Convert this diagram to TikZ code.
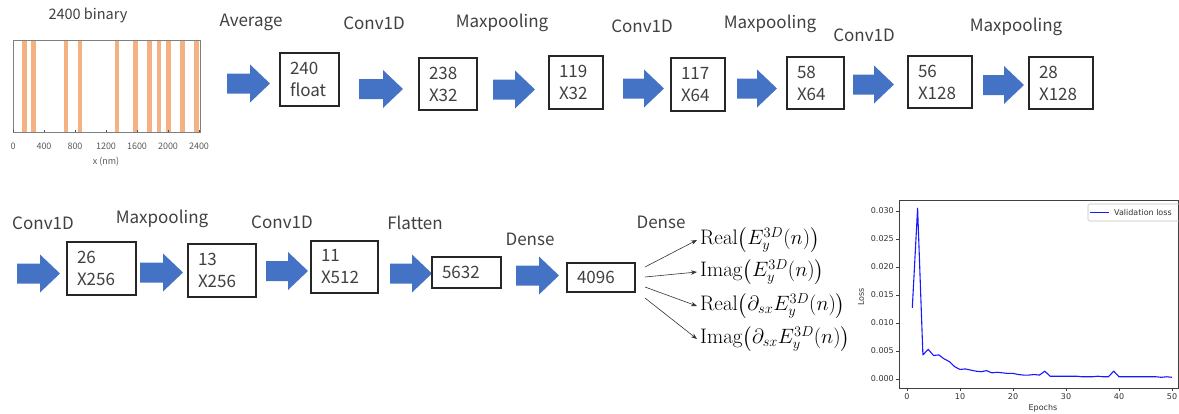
\documentclass[tikz,border=0pt]{standalone}
\usepackage{amsmath}
\usepackage{fontspec}
\newfontfamily\jpfont{Noto Sans CJK JP}
\newfontfamily\dvfont{DejaVu Sans}
\usetikzlibrary{arrows.meta}
\definecolor{arrowblue}{HTML}{4472C4}
\definecolor{barorange}{HTML}{F4B183}
\definecolor{labelgray}{HTML}{404040}
\definecolor{axisgray}{HTML}{7F7F7F}
\newcommand\blockarrow[3]{% left x, centre y, length
  \fill[arrowblue] (#1,#2-10) -- (#1+#3-20,#2-10) -- (#1+#3-20,#2-19) -- (#1+#3,#2)
    -- (#1+#3-20,#2+19) -- (#1+#3-20,#2+10) -- (#1,#2+10) -- cycle;}
\begin{document}
\begin{tikzpicture}[x=1pt,y=-1pt,
  lbl/.style={font=\jpfont\fontsize{17}{20}\selectfont, text=labelgray, inner sep=0pt},
  box/.style={draw=black!85, line width=1.3pt, inner xsep=10pt, inner ysep=0pt, align=left,
    font=\jpfont\fontsize{17}{22}\selectfont, text=labelgray},
  outl/.style={anchor=west, inner sep=3pt, font=\fontsize{21}{24}\selectfont},
  outarrow/.style={-{Stealth[length=6pt,width=4.5pt]}, line width=0.6pt, draw=black!80},
  ticklbl/.style={font=\dvfont\fontsize{8}{9}\selectfont, text=black!80, inner sep=0pt},
  smalllbl/.style={font=\jpfont\fontsize{9}{10}\selectfont, text=black!65, inner sep=0pt}]
\useasboundingbox (0,0) rectangle (1179,413);

% ---------- binary profile ----------
\node[lbl, font=\jpfont\fontsize{14.5}{17}\selectfont] (title) at (88,15) {2400 binary};
\foreach \a/\b in {22/27,31/36,64/68,78/82,115/119,133/138,147/152,157/161,166/171,180/185,194/199}
  \fill[barorange] (\a,40) rectangle (\b,132);
\draw[axisgray, line width=1pt] (13,40) rectangle (200,132);
\foreach \x/\t [count=\i] in {13/0,44/400,75/800,106/1200,137/1600,168/2000,199/2400} {
  \draw[black!70, line width=0.8pt] (\x,132) -- (\x,130);
  \node[smalllbl] (xt\i) at (\x,146) {\t};
}
\node[smalllbl] (xlab) at (106,162) {x (nm)};

% ---------- top row ----------
\node[lbl] (l1) at (251,22) {Average};
\node[lbl] (l2) at (374,23) {Conv1D};
\node[lbl] (l3) at (502,23) {Maxpooling};
\node[lbl] (l4) at (642,26) {Conv1D};
\node[lbl] (l5) at (770,24) {Maxpooling};
\node[lbl] (l6) at (864,35) {Conv1D};
\node[lbl] (l7) at (1016,27) {Maxpooling};

\blockarrow{227}{83.5}{43}
\blockarrow{359}{89}{44}
\blockarrow{493}{89.5}{42}
\blockarrow{623}{88.5}{41}
\blockarrow{737}{88.5}{40}
\blockarrow{853}{84.5}{41}
\blockarrow{983}{85}{41}

\node[box, minimum width=59pt, minimum height=53pt, text width=39pt] (b1) at (309.5,79.5) {240\\float};
\node[box, minimum width=58pt, minimum height=52pt, text width=38pt] (b2) at (448,84) {238\\X32};
\node[box, minimum width=54pt, minimum height=53pt, text width=34pt] (b3) at (576,82.5) {119\\X32};
\node[box, minimum width=54pt, minimum height=53pt, text width=34pt] (b4) at (698,84.5) {117\\X64};
\node[box, minimum width=57pt, minimum height=52pt, text width=37pt] (b5) at (815.5,83) {58\\X64};
\node[box, minimum width=64pt, minimum height=52pt, text width=44pt] (b6) at (940,82) {56\\X128};
\node[box, minimum width=64pt, minimum height=52pt, text width=44pt] (b7) at (1061,83) {28\\X128};

% ---------- bottom row ----------
\node[lbl] (m1) at (43,223) {Conv1D};
\node[lbl] (m2) at (162,219) {Maxpooling};
\node[lbl] (m3) at (282,222) {Conv1D};
\node[lbl] (m4) at (415,223) {Flatten};
\node[lbl] (m5) at (530,239) {Dense};
\node[lbl] (m6) at (661,222) {Dense};

\blockarrow{17}{273.5}{43}
\blockarrow{140}{272.5}{43}
\blockarrow{266}{271}{42}
\blockarrow{390}{273.5}{42}
\blockarrow{516}{275.5}{43}

\node[box, minimum width=69pt, minimum height=53pt, text width=49pt] (c1) at (101.5,268.5) {26\\X256};
\node[box, minimum width=68pt, minimum height=53pt, text width=48pt] (c2) at (222,270.5) {13\\X256};
\node[box, minimum width=67pt, minimum height=52pt, text width=47pt] (c3) at (344.5,267) {11\\X512};
\node[box, minimum width=69pt, minimum height=31pt, text width=49pt] (c4) at (466.5,272.5) {5632};
\node[box, minimum width=68pt, minimum height=29pt, text width=48pt] (c5) at (601,277.5) {4096};

\node[outl] (o1) at (697,240) {$\mathrm{Real}{\left(E_y^{3D}(n)\right)}$};
\node[outl] (o2) at (697,272) {$\mathrm{Imag}{\left(E_y^{3D}(n)\right)}$};
\node[outl] (o3) at (697,306) {$\mathrm{Real}{\left(\partial_{sx}E_y^{3D}(n)\right)}$};
\node[outl] (o4) at (697,339) {$\mathrm{Imag}{\left(\partial_{sx}E_y^{3D}(n)\right)}$};
\coordinate (s1) at (645,267);
\coordinate (s2) at (645,277);
\coordinate (s3) at (645,287);
\coordinate (s4) at (645,298);
\draw[outarrow] (s1) -- (o1.west);
\draw[outarrow] (s2) -- (o2.west);
\draw[outarrow] (s3) -- (o3.west);
\draw[outarrow] (s4) -- (o4.west);

% ---------- loss plot ----------
\draw[black!75, line width=0.7pt] (899,200) rectangle (1178,388);
\foreach \v/\y [count=\i] in {0.000/379,0.005/351,0.010/323,0.015/295,0.020/267,0.025/239,0.030/211} {
  \draw[black!75, line width=0.6pt] (899,\y) -- (896,\y);
  \node[ticklbl, anchor=east] (yt\i) at (894,\y) {\v};
}
\foreach \e [count=\i] in {0,10,20,30,40,50} {
  \draw[black!75, line width=0.6pt] (907+\e*5.3,388) -- (907+\e*5.3,391);
  \node[ticklbl] (et\i) at (907+\e*5.3,397) {\e};
}
\node[ticklbl, rotate=90] (ylab) at (861,297) {Loss};
\node[ticklbl] (elab) at (1043,408) {Epochs};
\begin{scope}[shift={(907,379)}, x=5.3pt, y=5.6pt]
\draw[blue!90!white, line width=1.1pt, line join=round]
 (1,12.7) -- (2,30.5) -- (3,4.3) -- (4,5.3) -- (5,4.2) -- (6,4.3) -- (7,3.6) -- (8,3.1) -- (9,2.2) -- (10,1.7)
 -- (11,1.8) -- (12,1.6) -- (13,1.4) -- (14,1.3) -- (15,1.5) -- (16,1.1) -- (17,1.2) -- (18,1.1) -- (19,1.0) -- (20,1.0)
 -- (21,0.8) -- (22,0.7) -- (23,0.7) -- (24,0.8) -- (25,0.7) -- (26,1.4) -- (27,0.5) -- (28,0.5) -- (29,0.5) -- (30,0.5)
 -- (31,0.5) -- (32,0.5) -- (33,0.4) -- (34,0.4) -- (35,0.4) -- (36,0.5) -- (37,0.4) -- (38,0.4) -- (39,1.4) -- (40,0.4)
 -- (41,0.4) -- (42,0.4) -- (43,0.4) -- (44,0.4) -- (45,0.4) -- (46,0.4) -- (47,0.4) -- (48,0.3) -- (49,0.4) -- (50,0.3);
\end{scope}
\draw[black!25, line width=0.6pt, rounded corners=1.5pt] (1088,204) rectangle (1182,221);
\draw[blue!90!white, line width=1.1pt] (1090,212.5) -- (1109,212.5);
\node[ticklbl, anchor=west] (leg) at (1114,212.5) {Validation loss};
\end{tikzpicture}
\end{document}
